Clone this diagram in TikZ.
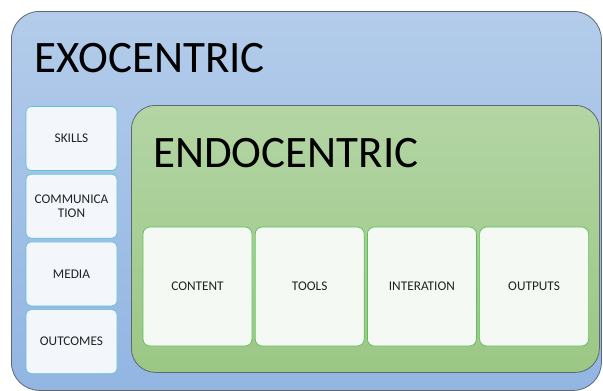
\documentclass[tikz,border=0pt]{standalone}
\usepackage{fontspec}
\setmainfont{Carlito}
\usepackage{tikz}
\usetikzlibrary{positioning}

\definecolor{exotop}{HTML}{B3CCEA}
\definecolor{exobot}{HTML}{92B5E2}
\definecolor{endotop}{HTML}{B3D5A4}
\definecolor{endobot}{HTML}{9BC784}
\definecolor{frameline}{HTML}{5F6770}
\definecolor{sideline}{HTML}{5CC4D8}
\definecolor{sidefill}{HTML}{F3F6FB}
\definecolor{cellline}{HTML}{5CBF5C}
\definecolor{cellfill}{HTML}{F5F9F3}
\definecolor{labeltext}{HTML}{222222}

\begin{document}
\begin{tikzpicture}[x=1pt, y=-1pt, align=center,
    exo/.style={draw=frameline, line width=0.8pt, rounded corners=28pt, top color=exotop, bottom color=exobot},
    endo/.style={draw=frameline, line width=0.8pt, rounded corners=24pt, top color=endotop, bottom color=endobot},
    title/.style={inner sep=0pt, font=\fontsize{45}{45}\selectfont},
    side/.style={draw=sideline, line width=0.7pt, fill=sidefill, rounded corners=5pt, text=labeltext,
        minimum width=91pt, minimum height=64pt, inner sep=1pt, font=\fontsize{13.3}{14}\selectfont},
    cell/.style={draw=cellline, line width=0.7pt, fill=cellfill, rounded corners=7pt, text=labeltext,
        minimum width=109pt, minimum height=119pt, inner sep=1pt, font=\fontsize{13.3}{14}\selectfont}
]
    \useasboundingbox (0,0) rectangle (603,391);

    % outer frame
    \node[exo, anchor=north west, minimum width=590pt, minimum height=379pt] (exo) at (11,11) {};
    \node[title, anchor=base west] (exotitle) at (34,72) {EXOCENTRIC};

    % left column
    \node[side] (skills) at (71.5,138.5) {SKILLS};
    \node[side, below=3pt of skills] (comm) {COMMUNICA\\TION};
    \node[side, below=3pt of comm] (media) {MEDIA};
    \node[side, below=3pt of media] (outcomes) {OUTCOMES};

    % inner frame
    \node[endo, anchor=north west, minimum width=468pt, minimum height=267pt] (endo) at (131,105) {};
    \node[title, anchor=base west] (endotitle) at (153,167) {ENDOCENTRIC};

    % bottom row
    \node[cell] (content) at (197.5,286.5) {CONTENT};
    \node[cell, right=2.5pt of content] (tools) {TOOLS};
    \node[cell, right=2.5pt of tools] (interation) {INTERATION};
    \node[cell, right=2.5pt of interation] (outputs) {OUTPUTS};
\end{tikzpicture}
\end{document}
